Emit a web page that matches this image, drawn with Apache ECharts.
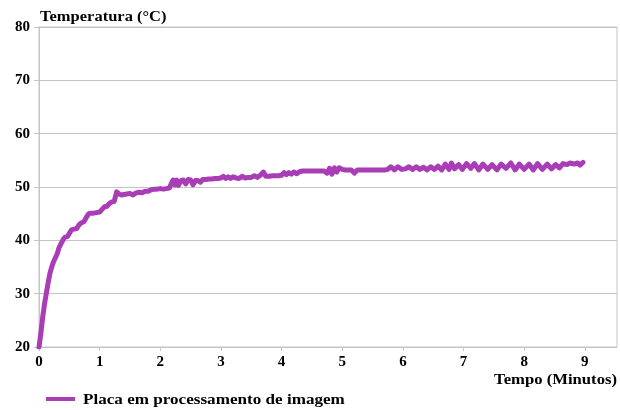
<!DOCTYPE html>
<html>
<head>
<meta charset="utf-8">
<script src="https://cdn.jsdelivr.net/npm/echarts@6/dist/echarts.min.js"></script>
<style>
  html, body { margin: 0; padding: 0; background: #ffffff; }
  #chart { width: 620px; height: 410px; }
</style>
</head>
<body>
<div id="chart"></div>
<script>
// Axis text
const yAxisTitle = 'Temperatura (°C)';
const xAxisTitle = 'Tempo (Minutos)';
const seriesName = 'Placa em processamento de imagem';

// Axis ranges (minutes, °C)
const xTicks = [0, 1, 2, 3, 4, 5, 6, 7, 8, 9];
const yTicks = [20, 30, 40, 50, 60, 70, 80];

// Measured temperature: [time in minutes, temperature in °C]
const readings = [
  [0.00, 20.0], [0.03, 22.5], [0.06, 25.5], [0.09, 28.0], [0.12, 30.0],
  [0.15, 32.0], [0.18, 33.8], [0.21, 35.0], [0.24, 36.0], [0.27, 36.2],
  [0.30, 37.5], [0.33, 38.6], [0.36, 39.3], [0.40, 40.2], [0.43, 40.6],
  [0.47, 40.7], [0.50, 41.3], [0.54, 42.0], [0.58, 42.1], [0.62, 42.2],
  [0.66, 42.9], [0.70, 43.3], [0.74, 43.5], [0.78, 44.3], [0.82, 45.0],
  [0.86, 45.1], [0.90, 45.1], [0.95, 45.2], [1.00, 45.3], [1.04, 45.8],
  [1.08, 46.3], [1.12, 46.4], [1.16, 46.9], [1.20, 47.2], [1.24, 47.3],
  [1.28, 49.1], [1.32, 48.7], [1.36, 48.5], [1.40, 48.6], [1.45, 48.7],
  [1.50, 48.8], [1.55, 48.5], [1.60, 48.9], [1.65, 49.0], [1.70, 48.9],
  [1.75, 49.2], [1.80, 49.2], [1.85, 49.5], [1.90, 49.6], [1.95, 49.6],
  [2.00, 49.7], [2.05, 49.6], [2.10, 49.7], [2.15, 49.8], [2.18, 50.6],
  [2.21, 51.3], [2.24, 50.4], [2.27, 51.3], [2.30, 50.3], [2.34, 51.2],
  [2.38, 51.3], [2.42, 50.6], [2.46, 51.4], [2.50, 51.3], [2.54, 50.4],
  [2.58, 51.2], [2.62, 51.2], [2.66, 50.9], [2.70, 51.4], [2.75, 51.4],
  [2.80, 51.5], [2.85, 51.5], [2.90, 51.6], [2.95, 51.6], [3.00, 51.7],
  [3.04, 52.0], [3.08, 51.6], [3.12, 51.9], [3.16, 51.6], [3.20, 51.9],
  [3.25, 51.7], [3.30, 51.6], [3.35, 52.0], [3.40, 51.7], [3.45, 51.8],
  [3.50, 51.8], [3.55, 52.1], [3.60, 51.8], [3.65, 52.2], [3.70, 52.8],
  [3.74, 52.0], [3.80, 52.0], [3.85, 52.1], [3.90, 52.1], [3.95, 52.1],
  [4.00, 52.2], [4.04, 52.7], [4.08, 52.3], [4.12, 52.7], [4.16, 52.4],
  [4.20, 52.8], [4.25, 52.5], [4.30, 52.9], [4.35, 53.0], [4.40, 53.0],
  [4.45, 53.0], [4.50, 53.0], [4.55, 53.0], [4.60, 53.0], [4.65, 53.0],
  [4.70, 53.0], [4.75, 52.6], [4.79, 53.5], [4.83, 52.4], [4.87, 53.6],
  [4.91, 52.8], [4.95, 53.6], [5.00, 53.3], [5.05, 53.2], [5.10, 53.2],
  [5.15, 53.2], [5.20, 52.6], [5.25, 53.2], [5.30, 53.2], [5.35, 53.2],
  [5.40, 53.2], [5.45, 53.2], [5.50, 53.2], [5.55, 53.2], [5.60, 53.2],
  [5.65, 53.2], [5.70, 53.2], [5.75, 53.3], [5.80, 53.8], [5.86, 53.2],
  [5.92, 53.8], [5.98, 53.3], [6.04, 53.4], [6.10, 53.8], [6.16, 53.3],
  [6.22, 53.8], [6.28, 53.3], [6.34, 53.7], [6.40, 53.2], [6.46, 53.8],
  [6.52, 53.3], [6.58, 53.9], [6.64, 53.2], [6.70, 54.3], [6.76, 53.3],
  [6.80, 54.5], [6.85, 53.4], [6.92, 54.2], [6.98, 53.3], [7.05, 54.4],
  [7.12, 53.5], [7.18, 54.4], [7.25, 53.2], [7.32, 54.3], [7.40, 53.3],
  [7.47, 54.2], [7.55, 53.2], [7.62, 54.3], [7.70, 53.5], [7.78, 54.5],
  [7.85, 53.2], [7.92, 54.3], [8.00, 53.3], [8.08, 54.3], [8.15, 53.2],
  [8.22, 54.4], [8.30, 53.3], [8.38, 54.3], [8.45, 53.4], [8.52, 54.2],
  [8.58, 53.6], [8.64, 54.4], [8.70, 54.2], [8.76, 54.5], [8.82, 54.3],
  [8.88, 54.5], [8.92, 54.1], [8.97, 54.6]
];

const lineColor = '#a83db6';
const gridColor = '#c4c4c4';
const serif = '"Liberation Serif", "Times New Roman", serif';
const boldFont = 'bold 15px ' + serif;

const chart = echarts.init(document.getElementById('chart'), null, { renderer: 'canvas' });

chart.setOption({
  animation: false,
  backgroundColor: '#ffffff',
  grid: {
    left: 39, right: 3, top: 27, bottom: 63,
    show: true, borderColor: gridColor, borderWidth: 1,
    containLabel: false
  },
  // Axis titles and the legend entry, set in a slightly wide serif
  graphic: [
    {
      type: 'text', x: 40, y: 17, scaleX: 1.1,
      style: { text: yAxisTitle, font: boldFont, fill: '#000', textVerticalAlign: 'middle' }
    },
    {
      type: 'text', x: 617, y: 380, scaleX: 1.11,
      style: { text: xAxisTitle, font: boldFont, fill: '#000', textAlign: 'right', textVerticalAlign: 'middle' }
    },
    {
      type: 'line',
      shape: { x1: 46, y1: 399, x2: 75, y2: 399 },
      style: { stroke: lineColor, lineWidth: 4 }
    },
    {
      type: 'text', x: 83, y: 400, scaleX: 1.14,
      style: { text: seriesName, font: boldFont, fill: '#000', textVerticalAlign: 'middle' }
    }
  ],
  xAxis: {
    type: 'value',
    min: xTicks[0], max: 9.53, interval: 1,
    axisLine: { show: true, lineStyle: { color: gridColor } },
    axisTick: { show: true, length: 4, lineStyle: { color: gridColor } },
    splitLine: { show: false },
    axisLabel: {
      margin: 8, fontFamily: serif, fontWeight: 'bold', fontSize: 15, color: '#000',
      showMaxLabel: false,
      formatter: v => (xTicks.includes(v) ? String(v) : '')
    }
  },
  yAxis: {
    type: 'value',
    min: yTicks[0], max: yTicks[yTicks.length - 1], interval: 10,
    axisLine: { show: true, lineStyle: { color: gridColor } },
    axisTick: { show: true, length: 5, lineStyle: { color: gridColor } },
    splitLine: { show: true, lineStyle: { color: gridColor, width: 1 } },
    axisLabel: {
      margin: 9, fontFamily: serif, fontWeight: 'bold', fontSize: 15, color: '#000'
    }
  },
  series: [{
    name: seriesName,
    type: 'line',
    data: readings,
    showSymbol: false,
    symbol: 'none',
    smooth: false,
    itemStyle: { color: lineColor },
    lineStyle: { color: lineColor, width: 5, cap: 'round', join: 'round' }
  }]
});
</script>
</body>
</html>
